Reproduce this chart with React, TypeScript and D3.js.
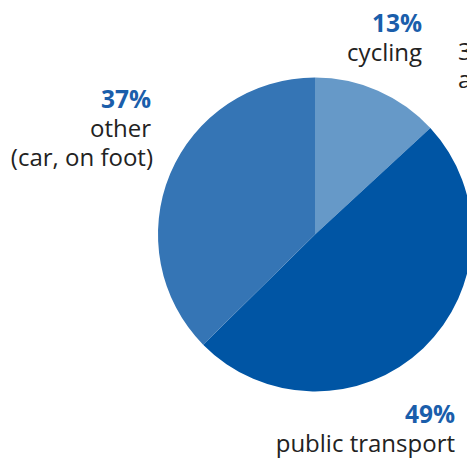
import React, { useEffect, useRef } from "react";
import * as d3 from "d3";

// commute mode shares (%)
const categories = ["cycling", "public transport", "other"];
const shares = [13, 49, 37];
const percentLabels = ["13%", "49%", "37%"];
const nameLines = [["cycling"], ["public transport"], ["other", "(car, on foot)"]];
const colors = ["#6699c8", "#0055a4", "#3575b5"];

const W = 467;
const H = 462;

const App = () => {
  const ref = useRef<SVGSVGElement>(null);

  useEffect(() => {
    const svg = d3.select(ref.current);
    svg.selectAll("*").remove();

    const cx = 315;
    const cy = 234.5;
    const r = 157;

    const data = categories.map((c, i) => ({ name: c, value: shares[i], i }));

    const pie = d3
      .pie<any>()
      .value((d) => d.value)
      .sort(null);
    const arc = d3.arc<any>().innerRadius(0).outerRadius(r);

    svg
      .append("g")
      .attr("transform", `translate(${cx},${cy})`)
      .selectAll("path")
      .data(pie(data))
      .enter()
      .append("path")
      .attr("d", arc)
      .attr("fill", (d) => colors[d.data.i]);

    // labels: right-aligned, percent in bold blue above the name
    const labelPos = [
      { x: 422, y: 32 },
      { x: 455, y: 423 },
      { x: 151, y: 108 },
    ];
    const font = "'Open Sans', Lato, sans-serif";

    data.forEach((d, i) => {
      const g = svg.append("g").attr("font-family", font);
      g.append("text")
        .attr("x", labelPos[i].x)
        .attr("y", labelPos[i].y)
        .attr("text-anchor", "end")
        .attr("font-size", 24.5)
        .attr("font-weight", "bold")
        .attr("fill", "#1a5eab")
        .text(percentLabels[i]);
      nameLines[i].forEach((line, j) => {
        g.append("text")
          .attr("x", labelPos[i].x + (i === 2 && j === 1 ? 2 : 0))
          .attr("y", labelPos[i].y + 29 * (j + 1))
          .attr("text-anchor", "end")
          .attr("font-size", 24)
          .attr("fill", "#222")
          .text(line);
      });
    });

    // partly cut-off label at the right edge (clipped in the reference too)
    const cut = svg.append("g").attr("font-family", font).attr("font-size", 24).attr("fill", "#222");
    cut.append("text").attr("x", 458).attr("y", 60).text("3");
    cut.append("text").attr("x", 458).attr("y", 88).text("a");
  }, []);

  return (
    <svg
      ref={ref}
      width={W}
      height={H}
      style={{ position: "absolute", left: 0, top: 0, background: "#fff" }}
    />
  );
};

export default App;
